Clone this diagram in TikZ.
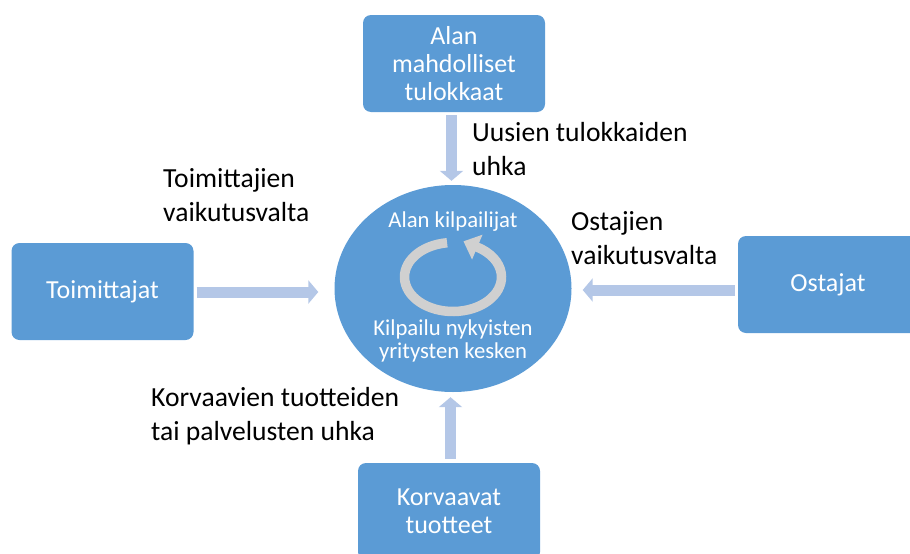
\documentclass[tikz,border=0pt]{standalone}
\usepackage{fontspec}
\setmainfont{Carlito}
\usetikzlibrary{arrows.meta,calc,shapes.geometric}
\definecolor{boxblue}{HTML}{5B9BD5}
\definecolor{arrowblue}{HTML}{B4C7E7}
\definecolor{ringgrey}{HTML}{D0D0D0}
\begin{document}
\begin{tikzpicture}[x=1pt,y=-1pt,
  boxnode/.style={fill=boxblue, draw=none, rounded corners=8pt, minimum width=182pt, minimum height=97pt, inner sep=0pt, text=white, align=center, font=\fontsize{26}{28}\selectfont},
  bigarrow/.style={draw=arrowblue, line width=11pt, -{Triangle[width=23pt,length=10pt]}},
  lbl/.style={anchor=base west, align=left, inner sep=0pt, font=\fontsize{27.6}{34}\selectfont, text=black}]
\useasboundingbox (0,0) rectangle (910,554);
\clip (0,0) rectangle (910,554);
% central ellipse
\node[fill=boxblue, ellipse, minimum width=237pt, minimum height=207pt, inner sep=0pt] (circ) at (453,288.5) {};
\node[text=white, font=\fontsize{22.7}{22}\selectfont, inner sep=0pt] (ctop) at (453,222) {Alan kilpailijat};
\node[text=white, font=\fontsize{22.7}{23}\selectfont, align=center, inner sep=0pt] (cbot) at (453,341) {Kilpailu nykyisten\\yritysten kesken};
% ring arrow
\begin{scope}[shift={(453,277)}, y=1pt]
\draw[ringgrey, line width=9.5pt, -{Triangle[width=26pt,length=15pt]}] (97:48.5 and 34.5) arc[start angle=97, end angle=420, x radius=48.5, y radius=34.5] -- ++(-13.8,5.8);
\end{scope}
% boxes
\node[boxnode] (top) at (454,63.5) {Alan\\mahdolliset\\tulokkaat};
\node[boxnode] (left) at (102.5,291.5) {Toimittajat};
\node[boxnode, minimum width=180pt] (right) at (828,284.5) {Ostajat};
\node[boxnode] (bot) at (449,511.5) {Korvaavat\\tuotteet};
% arrows
\coordinate (ta) at ($(top.south)+(-2.5,0)$);
\draw[bigarrow, shorten <=3pt, shorten >=4pt] (ta) -- (ta |- circ.north);
\coordinate (la) at ($(left.east)+(0,0.5)$);
\draw[bigarrow, shorten <=3pt, shorten >=16pt] (la) -- (la -| circ.west);
\coordinate (ra) at ($(right.west)+(0,5.5)$);
\draw[bigarrow, shorten <=3pt, shorten >=11pt] (ra) -- (ra -| circ.east);
\coordinate (ba) at ($(bot.north)+(1.5,0)$);
\draw[bigarrow, shorten <=4pt, shorten >=5pt] (ba) -- (ba |- circ.south);
% labels (anchor = baseline of the last line)
\node[lbl] (l1) at (472,175) {Uusien tulokkaiden\\uhka};
\node[lbl] (l2) at (163,221) {Toimittajien\\vaikutusvalta};
\node[lbl] (l3) at (571,264) {Ostajien\\vaikutusvalta};
\node[lbl] (l4) at (151,440) {Korvaavien tuotteiden\\tai palvelusten uhka};
\end{tikzpicture}
\end{document}
